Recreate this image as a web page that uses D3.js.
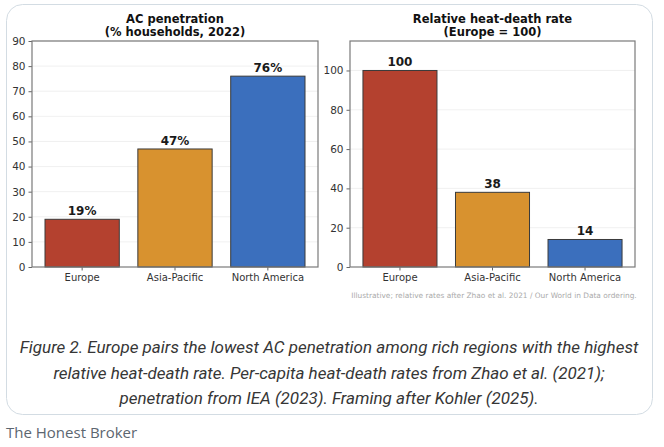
<!DOCTYPE html>
<html>
<head>
<meta charset="utf-8">
<script src="https://cdn.jsdelivr.net/npm/d3@7"></script>
<style>
  body { margin: 0; background: #fff; }
  svg { display: block; }
</style>
</head>
<body>
<svg id="chart" width="664" height="447"></svg>
<script>
const regions = ["Europe", "Asia-Pacific", "North America"];
const acPenetration = [19, 47, 76];
const heatDeathRate = [100, 38, 14];
const barColors = ["#b4412f", "#d8922f", "#3b6fbd"];
const acTicks = [0, 10, 20, 30, 40, 50, 60, 70, 80, 90];
const deathTicks = [0, 20, 40, 60, 80, 100];

const captionLines = [
    "Figure 2. Europe pairs the lowest AC penetration among rich regions with the highest",
    "relative heat-death rate. Per-capita heat-death rates from Zhao et al. (2021);",
    "penetration from IEA (2023). Framing after Kohler (2025)."
];

const svg = d3.select("#chart");

// card around the figure
svg.append("rect")
    .attr("x", 6.5).attr("y", 4.5)
    .attr("width", 646).attr("height", 410)
    .attr("rx", 16)
    .attr("fill", "#fff")
    .attr("stroke", "#d3dce3");

function buildPanel(left, right, top, bottom, values, yMax, ticks, titles, fmt) {
    const xs = d3.scaleBand().domain(regions).range([left, right]).paddingInner(0.2).paddingOuter(0.14);
    const ys = d3.scaleLinear().domain([0, yMax]).range([bottom, top]);
    const g = svg.append("g");

    // grid
    g.append("g").selectAll("line").data(ticks.filter(t => t > 0)).enter().append("line")
        .attr("x1", left).attr("x2", right)
        .attr("y1", d => ys(d)).attr("y2", d => ys(d))
        .attr("stroke", "#ececec").attr("stroke-width", 0.8);

    // bars
    g.append("g").selectAll("rect").data(values).enter().append("rect")
        .attr("x", (d, i) => xs(regions[i]))
        .attr("y", d => ys(d))
        .attr("width", xs.bandwidth())
        .attr("height", d => bottom - ys(d))
        .attr("fill", (d, i) => barColors[i])
        .attr("stroke", "#3a3a3a")
        .attr("stroke-width", 1);

    // value labels
    g.append("g").selectAll("text").data(values).enter().append("text")
        .attr("x", (d, i) => xs(regions[i]) + xs.bandwidth() / 2)
        .attr("y", d => ys(d) - 4)
        .attr("text-anchor", "middle")
        .attr("font-family", "DejaVu Sans")
        .attr("font-weight", "bold")
        .attr("font-size", 12)
        .attr("fill", "#1a1a1a")
        .text(d => fmt(d));

    // axes
    const yAxis = g.append("g").attr("transform", `translate(${left},0)`)
        .call(d3.axisLeft(ys).tickValues(ticks).tickSize(3.5).tickPadding(3));
    const xAxis = g.append("g").attr("transform", `translate(0,${bottom})`)
        .call(d3.axisBottom(xs).tickSize(3.5).tickPadding(3.5));
    [yAxis, xAxis].forEach(a => {
        a.select(".domain").remove();
        a.selectAll("line").attr("stroke", "#666");
        a.selectAll("text").attr("font-family", "DejaVu Sans").attr("font-size", 10.5).attr("fill", "#333");
    });
    xAxis.selectAll("text").attr("font-size", 10);

    // frame
    g.append("rect")
        .attr("x", left).attr("y", top)
        .attr("width", right - left).attr("height", bottom - top)
        .attr("fill", "none").attr("stroke", "#7a7a7a").attr("stroke-width", 1.2);

    // title
    const t = g.append("text")
        .attr("text-anchor", "middle")
        .attr("font-family", "DejaVu Sans")
        .attr("font-weight", "bold")
        .attr("font-size", 11.5)
        .attr("fill", "#111");
    titles.forEach((line, i) => {
        t.append("tspan").attr("x", (left + right) / 2).attr("y", 23 + i * 12.5).text(line);
    });
}

buildPanel(32, 318, 41, 267, acPenetration, 90, acTicks,
    ["AC penetration", "(% households, 2022)"], d => d + "%");
buildPanel(350, 635, 41, 267, heatDeathRate, 115, deathTicks,
    ["Relative heat-death rate", "(Europe = 100)"], d => d);

svg.append("text")
    .attr("x", 494).attr("y", 298)
    .attr("text-anchor", "middle")
    .attr("font-family", "DejaVu Sans")
    .attr("font-size", 7.4)
    .attr("fill", "#aaaaaa")
    .text("Illustrative; relative rates after Zhao et al. 2021 / Our World in Data ordering.");

const cap = svg.append("text")
    .attr("text-anchor", "middle")
    .attr("font-family", "Roboto")
    .attr("font-style", "italic")
    .attr("font-size", 17)
    .attr("fill", "#363636");
captionLines.forEach((line, i) => {
    cap.append("tspan").attr("x", 329).attr("y", 353 + i * 25.5).text(line);
});

svg.append("text")
    .attr("x", 6).attr("y", 438)
    .attr("font-family", "Open Sans")
    .attr("font-size", 15)
    .attr("fill", "#5c6670")
    .text("The Honest Broker");
</script>
</body>
</html>
